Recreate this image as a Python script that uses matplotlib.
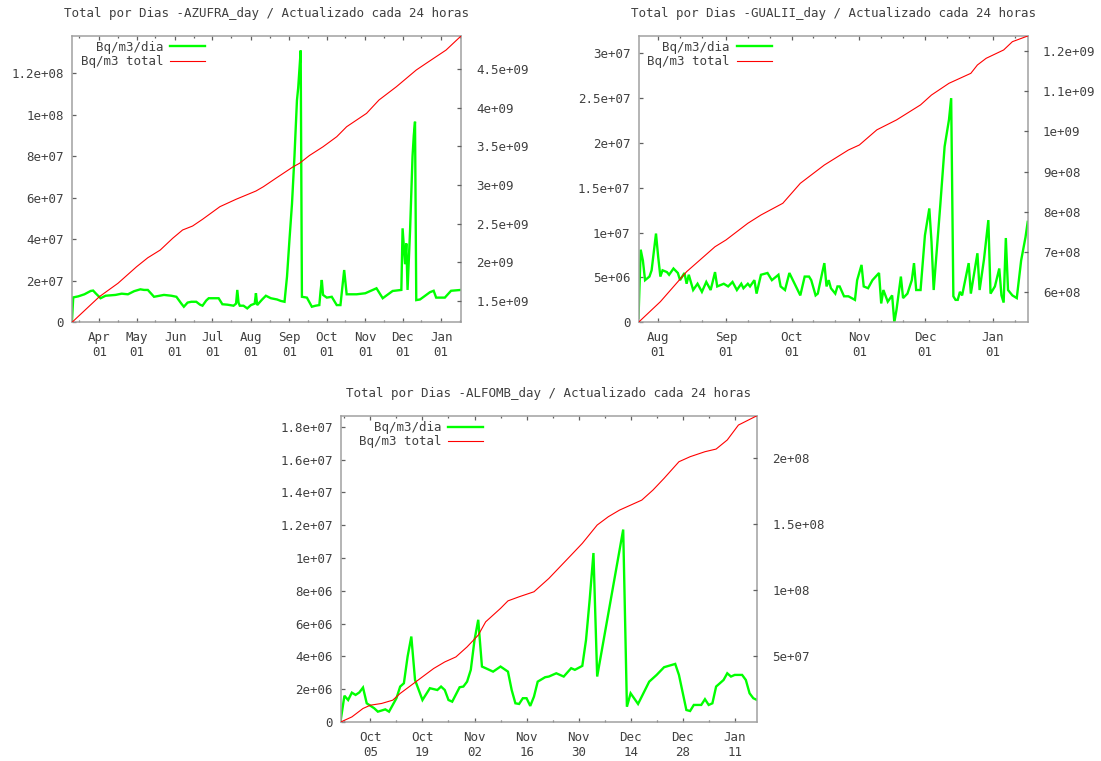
import numpy as np
import pandas as pd
import matplotlib
matplotlib.use("Agg")
import matplotlib.pyplot as plt
import matplotlib.dates as mdates
from matplotlib.ticker import MultipleLocator, FuncFormatter, FixedLocator

plt.rcParams["font.family"] = ["DejaVu Sans Mono"]

# ---------------- AZUFRA ----------------
azufra_start = "2008-03-10"
azufra_dia_days = [0, 1, 5, 10, 15, 17, 19, 23, 27, 35,
                   40, 45, 50, 55, 58, 61, 66, 74, 80, 84,
                   88, 90, 93, 96, 100, 103, 105, 108, 110, 118,
                   121, 125, 130, 132, 133, 134, 135, 138, 141, 144,
                   147, 148, 149, 153, 156, 160, 165, 168, 171, 173,
                   175, 177, 179, 181, 182, 183, 184, 185, 189, 193,
                   196, 199, 200, 201, 202, 205, 209, 213, 216, 219,
                   221, 229, 236, 245, 250, 258, 265, 266, 268, 269,
                   270, 272, 274, 275, 276, 277, 280, 283, 288, 291,
                   293, 300, 305, 313]
azufra_dia_e6 = [1.0, 12.0, 12.5, 13.5, 15.1, 15.3, 14.0, 11.6, 12.8, 13.2,
                 13.8, 13.5, 15.0, 15.9, 15.6, 15.6, 12.3, 13.2, 12.8, 12.3,
                 9.0, 7.5, 9.5, 9.9, 9.9, 8.5, 8.0, 10.5, 11.6, 11.6,
                 8.7, 8.5, 8.0, 9.0, 15.6, 9.5, 8.0, 8.0, 6.7, 8.3,
                 9.0, 14.0, 8.3, 11.0, 12.8, 11.6, 11.0, 10.3, 9.9, 22.0,
                 40.0, 57.0, 80.0, 107.0, 113.0, 122.0, 131.0, 12.3, 11.9, 7.5,
                 8.0, 8.3, 15.0, 20.4, 13.2, 11.9, 12.3, 8.3, 8.3, 25.2,
                 13.5, 13.5, 14.0, 16.4, 11.6, 15.1, 15.6, 45.3, 28.0, 38.0,
                 15.6, 44.0, 80.0, 90.0, 96.7, 10.7, 11.0, 12.3, 14.5, 15.2,
                 11.9, 11.9, 15.2, 15.6]
azufra_total_days = [0, 22, 37, 52, 61, 71, 81, 89, 97, 105,
                     119, 132, 148, 154, 164, 178, 183, 191, 202, 213,
                     221, 237, 247, 261, 277, 285, 301, 313]
azufra_total_e9 = [1.220, 1.552, 1.726, 1.941, 2.057, 2.157, 2.309, 2.417, 2.468, 2.555,
                   2.719, 2.815, 2.922, 2.978, 3.087, 3.237, 3.281, 3.382, 3.496, 3.626,
                   3.756, 3.929, 4.102, 4.274, 4.491, 4.578, 4.750, 4.932]

# ---------------- GUALII ----------------
gualii_start = "2008-07-23"
gualii_dia_days = [0, 1, 2, 3, 5, 6, 8, 9, 10, 11,
                   13, 14, 16, 18, 19, 21, 22, 23, 25, 27,
                   29, 31, 33, 35, 36, 39, 41, 43, 45, 47,
                   48, 50, 51, 53, 54, 56, 59, 61, 64, 65,
                   67, 69, 72, 74, 76, 78, 79, 81, 82, 84,
                   85, 86, 87, 88, 90, 91, 92, 94, 96, 99,
                   100, 102, 103, 105, 107, 110, 111, 112, 114, 116,
                   117, 118, 120, 121, 123, 125, 126, 127, 129, 131,
                   133, 134, 135, 138, 140, 142, 143, 144, 145, 146,
                   147, 148, 151, 152, 155, 156, 158, 160, 161, 163,
                   165, 166, 167, 168, 169, 171, 173, 175, 177, 178]
gualii_dia_e6 = [0.5, 8.1, 6.9, 4.7, 5.1, 5.8, 9.9, 7.3, 5.1, 5.8,
                 5.6, 5.3, 6.0, 5.5, 4.7, 5.5, 4.3, 5.3, 3.6, 4.3,
                 3.4, 4.5, 3.6, 5.6, 4.0, 4.3, 4.0, 4.5, 3.6, 4.3,
                 3.8, 4.3, 4.0, 4.7, 3.2, 5.3, 5.5, 4.7, 5.3, 4.0,
                 3.6, 5.5, 4.0, 3.0, 5.1, 5.1, 4.7, 3.0, 3.2, 5.5,
                 6.6, 4.0, 4.7, 3.8, 3.2, 4.0, 4.0, 2.9, 2.9, 2.5,
                 4.7, 6.4, 4.0, 3.8, 4.7, 5.5, 2.1, 3.6, 2.3, 3.0,
                 0.0, 1.4, 5.1, 2.7, 3.2, 4.7, 6.6, 3.6, 3.6, 9.7,
                 12.7, 9.0, 3.6, 13.0, 19.6, 22.6, 25.0, 2.9, 2.5, 2.5,
                 3.4, 3.0, 6.6, 3.2, 7.7, 3.6, 7.0, 11.4, 3.2, 4.0,
                 6.0, 3.0, 2.2, 9.4, 3.6, 3.0, 2.7, 6.9, 9.5, 11.2]
gualii_total_days = [0, 10, 22, 35, 40, 50, 56, 66, 74, 85,
                     96, 101, 109, 118, 129, 134, 142, 152, 155, 159,
                     167, 171, 178]
gualii_total_e9 = [0.5254, 0.5766, 0.6511, 0.7132, 0.7299, 0.7714, 0.7920, 0.8211, 0.8707, 0.9162,
                   0.9535, 0.9659, 1.0035, 1.0282, 1.0656, 1.0901, 1.1192, 1.1440, 1.1647, 1.1813,
                   1.2020, 1.2226, 1.2367]

# ---------------- ALFOMB ----------------
alfomb_start = "2008-09-27"
alfomb_dia_days = [0, 1, 2, 3, 4, 5, 6, 7, 9, 10,
                   12, 13, 15, 16, 17, 18, 19, 20, 22, 24,
                   26, 27, 28, 29, 30, 32, 33, 34, 35, 36,
                   37, 38, 39, 41, 43, 45, 46, 47, 48, 49,
                   50, 51, 52, 53, 55, 56, 58, 60, 62, 63,
                   65, 66, 67, 68, 69, 76, 77, 78, 80, 83,
                   85, 87, 90, 91, 93, 94, 95, 97, 98, 99,
                   100, 101, 103, 104, 105, 106, 108, 109, 110, 111,
                   112]
alfomb_dia_e6 = [0.1, 1.6, 1.34, 1.79, 1.65, 1.8, 2.10, 1.14, 0.84, 0.63,
                 0.77, 0.63, 1.45, 2.16, 2.36, 3.99, 5.21, 2.56, 1.34, 2.06,
                 1.95, 2.16, 1.95, 1.34, 1.24, 2.12, 2.16, 2.46, 3.18, 5.0,
                 6.23, 3.38, 3.28, 3.07, 3.38, 3.07, 1.95, 1.14, 1.10, 1.45,
                 1.45, 0.98, 1.55, 2.46, 2.73, 2.77, 2.97, 2.77, 3.28, 3.18,
                 3.42, 5.0, 7.5, 10.3, 2.77, 11.73, 0.93, 1.75, 1.10, 2.46,
                 2.87, 3.34, 3.54, 2.87, 0.73, 0.67, 1.04, 1.04, 1.39, 1.04,
                 1.14, 2.16, 2.56, 2.97, 2.77, 2.87, 2.87, 2.56, 1.75, 1.45,
                 1.34]
alfomb_total_days = [0, 3, 6, 8, 11, 14, 16, 19, 22, 25,
                     28, 31, 34, 37, 39, 43, 45, 48, 52, 56,
                     62, 65, 69, 72, 75, 78, 81, 84, 87, 91,
                     94, 98, 101, 104, 107, 112]
alfomb_total_e8 = [0.0015, 0.040, 0.104, 0.129, 0.142, 0.167, 0.218, 0.281, 0.344, 0.407,
                   0.457, 0.495, 0.571, 0.660, 0.761, 0.863, 0.920, 0.951, 0.989, 1.090,
                   1.267, 1.356, 1.495, 1.558, 1.608, 1.646, 1.684, 1.760, 1.849, 1.975,
                   2.013, 2.051, 2.071, 2.140, 2.253, 2.324]

series_labels = ["Bq/m3/dia", "Bq/m3 total"]
title_fmt = "Total por Dias -{}_day / Actualizado cada 24 horas"

# ---------------- styling ----------------
FIG_W, FIG_H = 1101, 761
FS = 9.0
TEXT_C = "#404040"
FRAME_C = "#a0a0a0"
TICK_C = "#606060"
GREEN = "#00ff00"
RED = "#ff0000"


def rect(left, right, top, bottom):
    return [left / FIG_W, 1 - bottom / FIG_H, (right - left) / FIG_W, (bottom - top) / FIG_H]


def to_dates(start, days):
    return (pd.Timestamp(start) + pd.to_timedelta(np.asarray(days, dtype=float), unit="D")).to_numpy()


gfmt = FuncFormatter(lambda v, p: f"{v:g}")


def panel(fig, box, name, start, dia_days, dia_vals, tot_days, tot_vals,
          left_top, left_step, right_step, major, minor):
    ax = fig.add_axes(box)
    ax2 = ax.twinx()

    d_dia = to_dates(start, dia_days)
    d_tot = to_dates(start, tot_days)
    l1, = ax.plot(d_dia, dia_vals, color=GREEN, lw=1.7, solid_joinstyle="miter")
    l2, = ax2.plot(d_tot, tot_vals, color=RED, lw=0.8)

    ax.set_xlim(d_tot[0], d_tot[-1])
    ax.set_ylim(0, left_top)
    ax2.set_ylim(min(tot_vals), max(tot_vals))

    ax.xaxis.set_major_locator(major)
    ax.xaxis.set_minor_locator(minor)
    ax.xaxis.set_major_formatter(mdates.DateFormatter("%b\n%d"))
    ax.yaxis.set_major_locator(MultipleLocator(left_step))
    ax.yaxis.set_major_formatter(gfmt)
    ax2.yaxis.set_major_locator(MultipleLocator(right_step))
    ax2.yaxis.set_major_formatter(gfmt)

    ax.tick_params(axis="x", which="both", direction="in", top=True, bottom=True,
                   color=TICK_C, labelcolor=TEXT_C, labelsize=FS, pad=6.3)
    ax.tick_params(axis="x", which="major", length=3.0, width=0.9)
    ax.tick_params(axis="x", which="minor", length=1.6, width=0.9)
    ax.tick_params(axis="y", which="major", direction="in", left=True, right=False,
                   length=3.0, width=0.9, color=TICK_C, labelcolor=TEXT_C,
                   labelsize=FS, pad=5.8)
    ax2.tick_params(axis="y", which="major", direction="in", right=True, left=False,
                    length=3.0, width=0.9, color=TICK_C, labelcolor=TEXT_C,
                    labelsize=FS, pad=11)

    for sp in ax.spines.values():
        sp.set_color(FRAME_C)
        sp.set_linewidth(1.1)
    for sp in ax2.spines.values():
        sp.set_visible(False)

    ax.set_title(title_fmt.format(name), fontsize=FS, color=TEXT_C, pad=13.5)

    ax2.legend([l1, l2], series_labels, loc="upper right", bbox_to_anchor=(0.342, 0.983),
               frameon=False, markerfirst=False, handlelength=2.8, handletextpad=0.55,
               labelspacing=0.1, borderpad=0, borderaxespad=0, fontsize=FS,
               labelcolor=TEXT_C)
    return ax, ax2


fig = plt.figure(figsize=(FIG_W / 100, FIG_H / 100), dpi=100, facecolor="white")

panel(fig, rect(72, 461, 36, 322.3), "AZUFRA", azufra_start,
      azufra_dia_days, np.array(azufra_dia_e6) * 1e6,
      azufra_total_days, np.array(azufra_total_e9) * 1e9,
      1.38e8, 2e7, 5e8,
      mdates.MonthLocator(bymonthday=1), mdates.MonthLocator(bymonthday=16))

panel(fig, rect(638.5, 1027.7, 36, 322.3), "GUALII", gualii_start,
      gualii_dia_days, np.array(gualii_dia_e6) * 1e6,
      gualii_total_days, np.array(gualii_total_e9) * 1e9,
      3.193e7, 5e6, 1e8,
      mdates.MonthLocator(bymonthday=1), mdates.MonthLocator(bymonthday=[11, 21]))

alfomb_major = FixedLocator(mdates.date2num(
    pd.date_range("2008-10-05", "2009-01-17", freq="14D").to_pydatetime()))
alfomb_minor = FixedLocator(mdates.date2num(
    pd.date_range("2008-09-28", "2009-01-17", freq="7D").to_pydatetime()))
panel(fig, rect(340.7, 757, 415.7, 722), "ALFOMB", alfomb_start,
      alfomb_dia_days, np.array(alfomb_dia_e6) * 1e6,
      alfomb_total_days, np.array(alfomb_total_e8) * 1e8,
      1.867e7, 2e6, 5e7, alfomb_major, alfomb_minor)

fig.savefig("out.png", dpi=100, facecolor="white")
